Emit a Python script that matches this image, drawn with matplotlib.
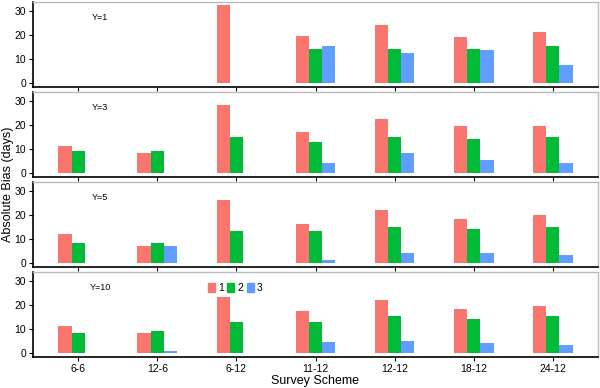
import numpy as np
import matplotlib
matplotlib.use("Agg")
import matplotlib.pyplot as plt
from matplotlib.patches import Patch

schemes = ["6-6", "12-6", "6-12", "11-12", "12-12", "18-12", "24-12"]
panels = ["Y=1", "Y=3", "Y=5", "Y=10"]
nan = np.nan

# absolute bias by panel, one list per group (1, 2, 3)
y1_g1 = [nan, nan, 32.6, 19.6, 24.2, 19.4, 21.4]
y1_g2 = [nan, nan, nan, 14.2, 14.2, 14.2, 15.4]
y1_g3 = [nan, nan, nan, 15.4, 12.6, 13.7, 7.4]

y3_g1 = [11.2, 8.4, 28.3, 17.1, 22.4, 19.6, 19.6]
y3_g2 = [9.3, 9.3, 15.2, 13.1, 15.2, 14.4, 15.2]
y3_g3 = [nan, nan, nan, 4.1, 8.6, 5.3, 4.1]

y5_g1 = [12.3, 7.1, 26.1, 16.3, 22.3, 18.3, 19.9]
y5_g2 = [8.4, 8.4, 13.4, 13.5, 15.1, 14.2, 15.1]
y5_g3 = [nan, 7.1, nan, 1.2, 4.4, 4.4, 3.2]

y10_g1 = [11.3, 8.3, 23.4, 17.5, 22.2, 18.2, 19.6]
y10_g2 = [8.3, 9.2, 13.0, 13.0, 15.5, 14.3, 15.5]
y10_g3 = [nan, 0.8, nan, 4.7, 5.1, 4.3, 3.6]

data = [
    (y1_g1, y1_g2, y1_g3),
    (y3_g1, y3_g2, y3_g3),
    (y5_g1, y5_g2, y5_g3),
    (y10_g1, y10_g2, y10_g3),
]
groups = ["1", "2", "3"]
colors = ["#F8766D", "#00BA38", "#619CFF"]

plt.rcParams["font.family"] = ["Liberation Sans", "DejaVu Sans"]

fig = plt.figure(figsize=(6, 3.88), dpi=100)
W, H = 600, 388
left, right = 33, 598
bw = 1 / 6
x = np.arange(len(schemes))

for k, (label, series) in enumerate(zip(panels, data)):
    top = 2 + 90 * k
    bottom = top + 85
    ax = fig.add_axes([left / W, 1 - bottom / H, (right - left) / W, 85 / H])
    for j, vals in enumerate(series):
        ax.bar(x + (j - 1) * bw, vals, width=bw, color=colors[j], linewidth=0)
    ax.set_xlim(-0.57, len(schemes) - 0.43)
    ax.set_ylim(-1.6, 33.8)
    ax.set_yticks([0, 10, 20, 30])
    ax.set_xticks(x)
    if k == 3:
        ax.set_xticklabels(schemes)
    else:
        ax.set_xticklabels([])
    ax.tick_params(labelsize=7.5, length=3, width=0.8, colors="black", pad=2)
    for s in ["left", "bottom"]:
        ax.spines[s].set_color("black")
        ax.spines[s].set_linewidth(1.2)
    for s in ["top", "right"]:
        ax.spines[s].set_color("#BBBBBB")
        ax.spines[s].set_linewidth(1.0)
    ax.text(0.28, 27.5, label, fontsize=6.5, ha="center", va="center")

    if k == 3:
        handles = [Patch(color=c, label=g) for c, g in zip(colors, groups)]
        ax.legend(handles=handles, loc="upper left", bbox_to_anchor=(0.3, 0.93),
                  ncol=3, frameon=False, fontsize=7.5, handlelength=0.7,
                  handleheight=0.9, handletextpad=0.3, columnspacing=0.3,
                  borderpad=0)

fig.text(0.014, 0.525, "Absolute Bias (days)", rotation=90, ha="center",
         va="center", fontsize=9)
fig.text(0.525, 0.018, "Survey Scheme", ha="center", va="center", fontsize=9)

fig.savefig("out.png", dpi=100)
